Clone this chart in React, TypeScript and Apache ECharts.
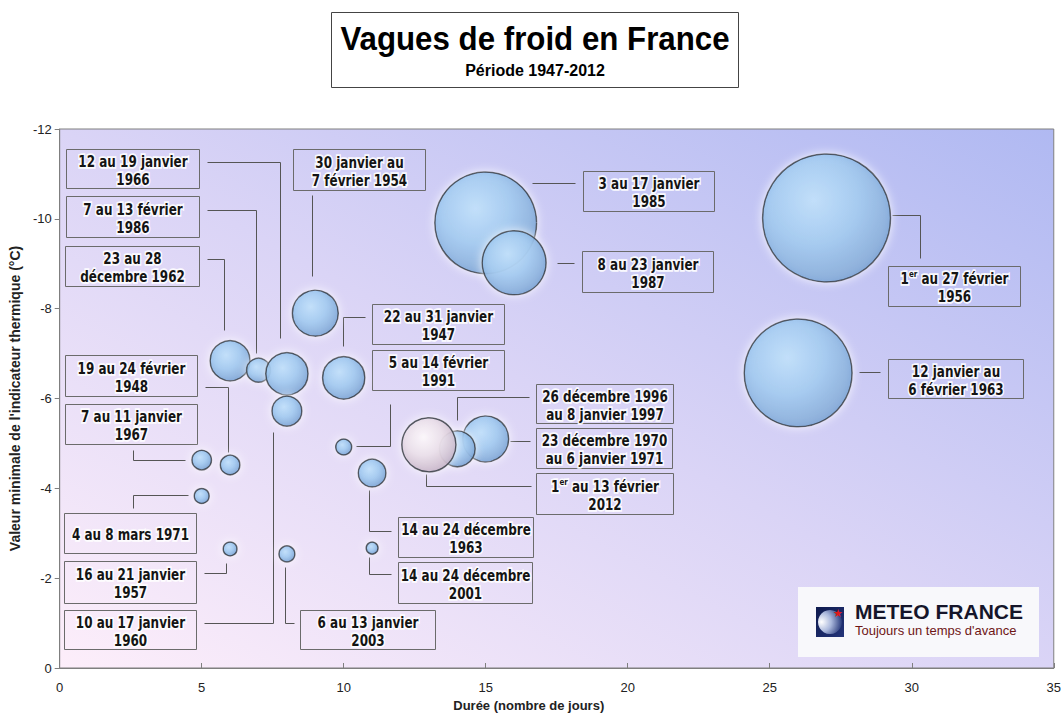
import React, { useEffect, useRef } from 'react';
import * as echarts from 'echarts';

// ---------- DATA ----------
const eventLabels: string[] = [
  '22 au 31 janvier\n1947',
  '19 au 24 février\n1948',
  '30 janvier au\n7 février 1954',
  '1er au 27 février\n1956',
  '16 au 21 janvier\n1957',
  '23 au 28\ndécembre 1962',
  '12 janvier au\n6 février 1963',
  '14 au 24 décembre\n1963',
  '7 au 13 février\n1986',
  '12 au 19 janvier\n1966',
  '10 au 17 janvier\n1960',
  '7 au 11 janvier\n1967',
  '23 décembre 1970\nau 6 janvier 1971',
  '4 au 8 mars 1971',
  '3 au 17 janvier\n1985',
  '8 au 23 janvier\n1987',
  '5 au 14 février\n1991',
  '26 décembre 1996\nau 8 janvier 1997',
  '14 au 24 décembre\n2001',
  '6 au 13 janvier\n2003',
  '1er au 13 février\n2012',
];
// durée (jours)
const durations: number[] = [10, 6, 9, 27, 6, 6, 26, 11, 7, 8, 8, 5, 15, 5, 15, 16, 10, 14, 11, 8, 13];
// valeur minimale de l'indicateur thermique (°C)
const minTemps: number[] = [-6.46, -4.52, -7.9, -10.02, -2.65, -6.84, -6.57, -4.34, -6.63, -6.55, -5.72, -4.63, -5.1, -3.83, -9.91, -9.02, -4.92, -4.88, -2.67, -2.54, -4.97];
// sévérité (taille de bulle)
const severity: number[] = [28, 6, 33, 256, 3, 25, 182, 12, 9, 28, 14, 6, 33, 3.5, 162, 64, 4, 20, 2.25, 4, 46];
const highlightYear = '2012';

const xMin = 0, xMax = 35, xStep = 5;
const yMin = -12, yMax = 0, yStep = 2;

const title = 'Vagues de froid en France';
const subtitle = 'Période 1947-2012';
const xName = 'Durée (nombre de jours)';
const yName = "Valeur minimale de l'indicateur thermique (°C)";

// ---------- ANNOTATION LAYOUT (in data units) ----------
type Lay = { box: number[]; line: number[][] };
const layout: Lay[] = [
  { box: [11.0, -8.11, 15.66, -7.22], line: [[10.76, -7.82], [9.99, -7.82], [9.99, -7.17]] },
  { box: [0.2, -6.97, 4.85, -6.06], line: [[5.13, -6.26], [5.93, -6.26], [5.93, -4.81]] },
  { box: [8.21, -11.56, 12.86, -10.65], line: [[8.87, -10.53], [8.87, -8.73]] },
  { box: [29.15, -8.95, 33.8, -8.06], line: [[29.32, -10.09], [30.3, -10.09], [30.3, -9.13]] },
  { box: [0.16, -2.38, 4.81, -1.45], line: [[5.09, -2.12], [5.86, -2.12], [5.86, -2.34]] },
  { box: [0.2, -9.4, 4.89, -8.51], line: [[5.2, -9.11], [5.79, -9.11], [5.79, -7.53]] },
  { box: [29.15, -6.88, 33.9, -6.01], line: [[28.14, -6.59], [28.87, -6.59]] },
  { box: [11.91, -3.36, 16.67, -2.47], line: [[10.9, -3.96], [10.9, -3.05], [11.67, -3.05]] },
  { box: [0.23, -10.51, 4.92, -9.6], line: [[5.2, -10.2], [6.91, -10.2], [6.91, -7.02]] },
  { box: [0.23, -11.56, 4.92, -10.69], line: [[5.2, -11.27], [7.75, -11.27], [7.75, -7.35]] },
  { box: [0.16, -1.29, 4.81, -0.42], line: [[5.09, -1.0], [7.51, -1.0], [7.51, -5.26]] },
  { box: [0.2, -5.88, 4.85, -4.99], line: [[2.58, -4.86], [2.58, -4.63], [4.4, -4.63]] },
  { box: [16.77, -5.35, 21.57, -4.45], line: [[15.86, -5.06], [16.56, -5.06]] },
  { box: [0.16, -3.45, 4.81, -2.56], line: [[2.58, -3.56], [2.58, -3.85], [4.53, -3.85]] },
  { box: [18.42, -11.07, 23.03, -10.18], line: [[16.63, -10.8], [18.14, -10.8]] },
  { box: [18.38, -9.29, 23.0, -8.37], line: [[17.5, -9.02], [18.1, -9.02]] },
  { box: [11.0, -7.08, 15.66, -6.19], line: [[11.63, -5.88], [11.63, -4.94], [10.44, -4.94]] },
  { box: [16.77, -6.33, 21.6, -5.46], line: [[16.53, -6.04], [13.98, -6.04], [13.98, -5.52]] },
  { box: [11.91, -2.36, 16.63, -1.45], line: [[10.9, -2.47], [10.9, -2.09], [11.67, -2.09]] },
  { box: [8.45, -1.29, 13.21, -0.42], line: [[8.24, -1.0], [7.93, -1.0], [7.93, -2.25]] },
  { box: [16.77, -4.34, 21.6, -3.43], line: [[12.89, -4.32], [12.89, -4.05], [16.6, -4.05]] },
];
const logoBox = [26.0, -1.8, 34.47, -0.24];

const blueBubble = () =>
  new echarts.graphic.RadialGradient(0.4, 0.36, 0.68, [
    { offset: 0, color: '#b2d9f9' },
    { offset: 0.5, color: '#8bbfed' },
    { offset: 1, color: '#5a93cd' },
  ]);
const pinkBubble = () =>
  new echarts.graphic.RadialGradient(0.4, 0.36, 0.68, [
    { offset: 0, color: '#fbf6fa' },
    { offset: 0.5, color: '#e6d9e5' },
    { offset: 1, color: '#bda6bd' },
  ]);

export default function App() {
  const ref = useRef<HTMLDivElement>(null);
  useEffect(() => {
    document.body.style.margin = '0';
    const chart = echarts.init(ref.current!, undefined, { renderer: 'svg' });
    const data = durations.map((d, i) => ({
      value: [d, minTemps[i], severity[i]],
      itemStyle: { color: eventLabels[i].includes(highlightYear) ? pinkBubble() : blueBubble() },
    }));
    chart.setOption({
      animation: false,
      textStyle: { fontFamily: 'Liberation Sans' },
      grid: {
        left: 57,
        top: 129,
        right: 6,
        bottom: 53,
        show: true,
        borderColor: '#7f7f7f',
        borderWidth: 1,
        backgroundColor: new echarts.graphic.LinearGradient(0, 1, 1, 0, [
          { offset: 0, color: '#fdeefa' },
          { offset: 0.5, color: '#dad4f6' },
          { offset: 1, color: '#b0b9f2' },
        ]),
      },
      xAxis: {
        type: 'value',
        min: xMin,
        max: xMax,
        interval: xStep,
        name: xName,
        nameLocation: 'middle',
        nameGap: 28,
        nameTextStyle: { fontWeight: 'bold', fontSize: 13, color: '#222', padding: [0, 56, 0, 0] },
        axisLine: { show: true, lineStyle: { color: '#7f7f7f' } },
        axisTick: { show: true, inside: true, length: 5, lineStyle: { color: '#7f7f7f' } },
        axisLabel: { color: '#222', fontSize: 13, margin: 13 },
        splitLine: { show: false },
      },
      yAxis: {
        type: 'value',
        min: yMin,
        max: yMax,
        interval: yStep,
        inverse: true,
        name: yName,
        nameLocation: 'middle',
        nameGap: 34,
        nameRotate: 90,
        nameTextStyle: { fontWeight: 'bold', fontSize: 14, color: '#222' },
        axisLine: { show: true, lineStyle: { color: '#7f7f7f' } },
        axisTick: { show: true, length: 5, lineStyle: { color: '#7f7f7f' } },
        axisLabel: { color: '#222', fontSize: 13, margin: 8 },
        splitLine: { show: false },
      },
      series: [
        {
          type: 'scatter',
          data,
          symbol: 'circle',
          symbolSize: (v: number[]) => 8 * Math.sqrt(v[2]),
          itemStyle: {
            borderColor: '#18222e',
            borderWidth: 1.5,
            shadowColor: 'rgba(255,255,255,1)',
            shadowBlur: 10,
          },
          emphasis: { disabled: true },
        },
      ],
    });

    const px = (p: number[]) => chart.convertToPixel({ gridIndex: 0 }, p) as number[];
    const els: any[] = [];
    // title
    els.push({
      type: 'rect',
      shape: { x: 331.5, y: 12.5, width: 407, height: 75 },
      style: { fill: '#fff', stroke: '#444', lineWidth: 1 },
    });
    els.push({
      type: 'group',
      x: 535,
      y: 38,
      scaleX: 0.92,
      children: [
        {
          type: 'text',
          style: {
            text: title, x: 0, y: 0, align: 'center', verticalAlign: 'middle',
            fontSize: 34, fontWeight: 'bold', fontFamily: 'Liberation Sans', fill: '#000',
          },
        },
      ],
    });
    els.push({
      type: 'text',
      style: {
        text: subtitle, x: 535, y: 70, align: 'center', verticalAlign: 'middle',
        fontSize: 16, fontWeight: 'bold', fontFamily: 'Liberation Sans', fill: '#000',
      },
    });

    layout.forEach((l, i) => {
      const a = px([l.box[0], l.box[1]]);
      const b = px([l.box[2], l.box[3]]);
      const x1 = Math.round(a[0]) + 0.5, y1 = Math.round(a[1]) + 0.5;
      const x2 = Math.round(b[0]) + 0.5, y2 = Math.round(b[1]) + 0.5;
      els.push({
        type: 'rect',
        shape: { x: x1, y: y1, width: x2 - x1, height: y2 - y1 },
        style: { fill: 'none', stroke: '#6b6b6b', lineWidth: 1 },
      });
      const txt = eventLabels[i].replace(/^1er/, '1{sup|er}');
      els.push({
        type: 'group',
        x: (x1 + x2) / 2,
        y: (y1 + y2) / 2 + 1,
        scaleX: 0.8,
        children: [
          {
            type: 'text',
            style: {
              text: txt, x: 0, y: 0, align: 'center', verticalAlign: 'middle',
              fontSize: 15, fontWeight: 'bold', fontFamily: 'DejaVu Sans', fill: '#141414',
              lineHeight: 18, stroke: 'rgba(255,255,255,0.9)', lineWidth: 3.5,
              rich: {
                sup: {
                  fontSize: 9, fontWeight: 'bold', fontFamily: 'DejaVu Sans', fill: '#141414',
                  verticalAlign: 'top', lineHeight: 18, stroke: 'rgba(255,255,255,0.9)', lineWidth: 3,
                },
              },
            },
          },
        ],
      });
      const pts = l.line.map((p) => {
        const q = px(p);
        return [Math.round(q[0]) + 0.5, Math.round(q[1]) + 0.5];
      });
      els.push({
        type: 'polyline',
        shape: { points: pts },
        style: { stroke: '#555', lineWidth: 1, fill: 'none' },
      });
    });

    // logo
    const la = px([logoBox[0], logoBox[1]]);
    const lb = px([logoBox[2], logoBox[3]]);
    const lx = Math.round(la[0]), ly = Math.round(la[1]);
    els.push({
      type: 'rect',
      shape: { x: lx, y: ly, width: Math.round(lb[0]) - lx, height: Math.round(lb[1]) - ly },
      style: { fill: '#f8f8fb' },
    });
    els.push({
      type: 'rect',
      shape: { x: lx + 18, y: ly + 20, width: 28, height: 30 },
      style: {
        fill: new echarts.graphic.LinearGradient(0, 0, 1, 1, [
          { offset: 0, color: '#0e1a4d' },
          { offset: 1, color: '#24357a' },
        ]),
      },
    });
    els.push({
      type: 'circle',
      shape: { cx: lx + 32, cy: ly + 35, r: 12 },
      style: {
        fill: new echarts.graphic.RadialGradient(0.15, 0.5, 0.9, [
          { offset: 0, color: '#ffffff' },
          { offset: 0.45, color: '#aab8dc' },
          { offset: 1, color: '#1c2e72' },
        ]),
      },
    });
    els.push({
      type: 'text',
      style: {
        text: '★', x: lx + 40, y: ly + 26, align: 'center', verticalAlign: 'middle',
        fontSize: 11, fill: '#e01818', fontFamily: 'DejaVu Sans',
      },
    });
    els.push({
      type: 'text',
      style: {
        text: 'METEO FRANCE', x: lx + 57, y: ly + 24, align: 'left', verticalAlign: 'middle',
        fontSize: 21, fontWeight: 'bold', fontFamily: 'Liberation Sans', fill: '#15152a',
      },
    });
    els.push({
      type: 'text',
      style: {
        text: "Toujours un temps d'avance", x: lx + 57, y: ly + 43, align: 'left', verticalAlign: 'middle',
        fontSize: 13, fontFamily: 'Liberation Sans', fill: '#6e1616',
      },
    });

    chart.setOption({ graphic: { elements: els } });
    return () => chart.dispose();
  }, []);
  return <div ref={ref} style={{ width: 1064, height: 721 }} />;
}
